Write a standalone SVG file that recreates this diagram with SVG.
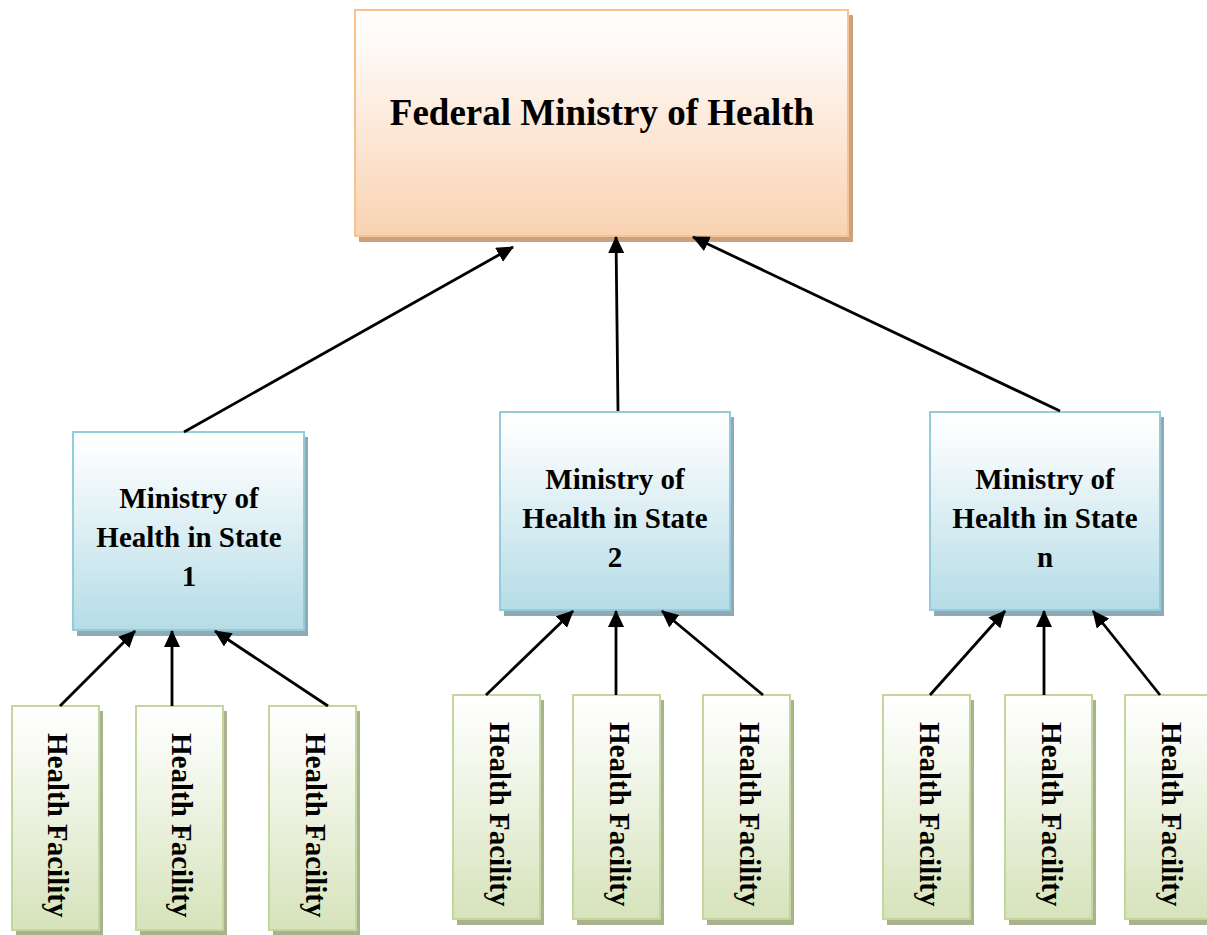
<svg xmlns="http://www.w3.org/2000/svg" width="1207" height="935" viewBox="0 0 1207 935">
  <defs>
    <linearGradient id="gTop" x1="0" y1="0" x2="0" y2="1">
      <stop offset="0" stop-color="#ffffff"/>
      <stop offset="0.15" stop-color="#fffaf6"/>
      <stop offset="1" stop-color="#f9d2b2"/>
    </linearGradient>
    <linearGradient id="gState" x1="0" y1="0" x2="0" y2="1">
      <stop offset="0" stop-color="#ffffff"/>
      <stop offset="0.1" stop-color="#fbfdfe"/>
      <stop offset="1" stop-color="#b5dce6"/>
    </linearGradient>
    <linearGradient id="gFac" x1="0" y1="0" x2="0" y2="1">
      <stop offset="0" stop-color="#ffffff"/>
      <stop offset="0.1" stop-color="#fcfdfa"/>
      <stop offset="1" stop-color="#d6e3bb"/>
    </linearGradient>
    <!-- solid triangular head, tip placed on the line end -->
    <marker id="arrow" viewBox="0 0 17 16" refX="16" refY="8" markerWidth="17" markerHeight="16" markerUnits="userSpaceOnUse" orient="auto">
      <path d="M0,0 L17,8 L0,16 Z" fill="#000"/>
    </marker>
  </defs>
  <style>
    .top { fill: url(#gTop); stroke: #fac28f; stroke-width: 2; }
    .topShadow { fill: #c9a283; }
    .state { fill: url(#gState); stroke: #93cddd; stroke-width: 2; }
    .stateShadow { fill: #8faab5; }
    .fac { fill: url(#gFac); stroke: #c3d69b; stroke-width: 2; }
    .facShadow { fill: #a9b28e; }
    .label { font-family: "Liberation Serif", "Times New Roman", serif; font-weight: bold; fill: #000; }
    .t1 { font-size: 37px; }
    .t2 { font-size: 29px; }
    .link { stroke: #000; stroke-width: 2.8; fill: none; marker-end: url(#arrow); }
  </style>

  <rect width="1207" height="935" fill="#ffffff"/>

  <!-- top level -->
  <g id="federal">
    <rect class="topShadow" x="359" y="15" width="494" height="227"/>
    <rect class="top" x="355" y="10" width="493" height="226"/>
    <text class="label t1" x="602" y="125" text-anchor="middle">Federal Ministry of Health</text>
  </g>

  <!-- state level -->
  <g id="state1">
    <rect class="stateShadow" x="77" y="437" width="231" height="199"/>
    <rect class="state" x="73" y="432" width="231" height="198"/>
    <text class="label t2" text-anchor="middle"><tspan x="189" y="508">Ministry of</tspan><tspan x="189" y="547">Health in State</tspan><tspan x="189" y="586">1</tspan></text>
  </g>
  <g id="state2">
    <rect class="stateShadow" x="504" y="417" width="230" height="199"/>
    <rect class="state" x="500" y="412" width="230" height="198"/>
    <text class="label t2" text-anchor="middle"><tspan x="615" y="489">Ministry of</tspan><tspan x="615" y="528">Health in State</tspan><tspan x="615" y="567">2</tspan></text>
  </g>
  <g id="staten">
    <rect class="stateShadow" x="934" y="417" width="230" height="199"/>
    <rect class="state" x="930" y="412" width="230" height="198"/>
    <text class="label t2" text-anchor="middle"><tspan x="1045" y="489">Ministry of</tspan><tspan x="1045" y="528">Health in State</tspan><tspan x="1045" y="567">n</tspan></text>
  </g>

  <!-- facilities under state 1 -->
  <g id="fac1a">
    <rect class="facShadow" x="16" y="711" width="87" height="225"/>
    <rect class="fac" x="12" y="706" width="87" height="224"/>
    <text class="label t2" transform="translate(48,733) rotate(90)">Health Facility</text>
  </g>
  <g id="fac1b">
    <rect class="facShadow" x="140" y="711" width="87" height="225"/>
    <rect class="fac" x="136" y="706" width="87" height="224"/>
    <text class="label t2" transform="translate(172,733) rotate(90)">Health Facility</text>
  </g>
  <g id="fac1c">
    <rect class="facShadow" x="273" y="711" width="87" height="225"/>
    <rect class="fac" x="269" y="706" width="87" height="224"/>
    <text class="label t2" transform="translate(306,733) rotate(90)">Health Facility</text>
  </g>

  <!-- facilities under state 2 -->
  <g id="fac2a">
    <rect class="facShadow" x="457" y="700" width="87" height="225"/>
    <rect class="fac" x="453" y="695" width="87" height="224"/>
    <text class="label t2" transform="translate(490,722) rotate(90)">Health Facility</text>
  </g>
  <g id="fac2b">
    <rect class="facShadow" x="577" y="700" width="87" height="225"/>
    <rect class="fac" x="573" y="695" width="87" height="224"/>
    <text class="label t2" transform="translate(610,722) rotate(90)">Health Facility</text>
  </g>
  <g id="fac2c">
    <rect class="facShadow" x="707" y="700" width="87" height="225"/>
    <rect class="fac" x="703" y="695" width="87" height="224"/>
    <text class="label t2" transform="translate(740,722) rotate(90)">Health Facility</text>
  </g>

  <!-- facilities under state n -->
  <g id="facNa">
    <rect class="facShadow" x="887" y="700" width="87" height="225"/>
    <rect class="fac" x="883" y="695" width="87" height="224"/>
    <text class="label t2" transform="translate(920,722) rotate(90)">Health Facility</text>
  </g>
  <g id="facNb">
    <rect class="facShadow" x="1009" y="700" width="87" height="225"/>
    <rect class="fac" x="1005" y="695" width="87" height="224"/>
    <text class="label t2" transform="translate(1042,722) rotate(90)">Health Facility</text>
  </g>
  <g id="facNc">
    <rect class="facShadow" x="1129" y="700" width="87" height="225"/>
    <rect class="fac" x="1125" y="695" width="87" height="224"/>
    <text class="label t2" transform="translate(1162,722) rotate(90)">Health Facility</text>
  </g>

  <!-- connectors: each child reports upward to its parent -->
  <g id="connectors">
    <line class="link" x1="184" y1="432" x2="513" y2="247"/>
    <line class="link" x1="618" y1="411" x2="616" y2="237"/>
    <line class="link" x1="1060" y1="411" x2="693" y2="237"/>

    <line class="link" x1="60" y1="706" x2="135" y2="631"/>
    <line class="link" x1="172" y1="706" x2="172" y2="631"/>
    <line class="link" x1="328" y1="706" x2="215" y2="631"/>

    <line class="link" x1="486" y1="695" x2="573" y2="611"/>
    <line class="link" x1="616" y1="695" x2="616" y2="611"/>
    <line class="link" x1="763" y1="695" x2="662" y2="611"/>

    <line class="link" x1="930" y1="695" x2="1005" y2="611"/>
    <line class="link" x1="1044" y1="695" x2="1044" y2="611"/>
    <line class="link" x1="1160" y1="695" x2="1093" y2="611"/>
  </g>
</svg>
